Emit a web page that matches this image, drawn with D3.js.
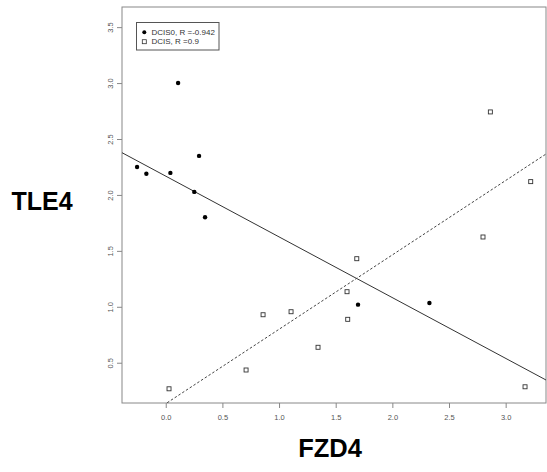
<!DOCTYPE html>
<html><head><meta charset="utf-8">
<script src="https://cdn.jsdelivr.net/npm/d3@7"></script>
<style>body{margin:0;background:#fff}svg{display:block}</style>
</head><body>
<svg id="c" width="547" height="472"></svg>
<script>
// DCIS0 (filled circles)
const dcis0X = [-0.253, -0.171, 0.041, 0.294, 0.252, 0.347, 0.109, 1.697, 2.327];
const dcis0Y = [2.25, 2.19, 2.197, 2.349, 2.027, 1.80, 3.0, 1.019, 1.034];
// DCIS (open squares)
const dcisX = [0.029, 0.709, 0.859, 1.106, 1.344, 1.600, 1.606, 1.686, 2.800, 2.865, 3.221, 3.171];
const dcisY = [0.267, 0.435, 0.929, 0.956, 0.638, 1.135, 0.888, 1.430, 1.624, 2.742, 2.119, 0.285];
// fitted lines: [intercept, slope]
const fitDcis0 = [2.168, -0.543];
const fitDcis = [0.134, 0.665];
const xTicks = [0, 0.5, 1, 1.5, 2, 2.5, 3];
const yTicks = [0.5, 1, 1.5, 2, 2.5, 3, 3.5];
const legendLabels = ["DCIS0, R =-0.942", "DCIS, R =0.9"];

const svg = d3.select("#c");
const L = 122, R = 546, T = 7, B = 403;
const x = d3.scaleLinear().domain([-0.386, 3.356]).range([L, R]);
const y = d3.scaleLinear().domain([0.14, 3.68]).range([B, T]);
const axisCol = "#888";
const font = "Liberation Sans, Arial, sans-serif";

svg.append("defs").append("clipPath").attr("id", "clip")
  .append("rect").attr("x", L).attr("y", T).attr("width", R - L).attr("height", B - T);

// box
svg.append("rect").attr("x", L).attr("y", T).attr("width", R - L).attr("height", B - T)
  .attr("fill", "none").attr("stroke", axisCol).attr("stroke-width", 1);

const xAxis = svg.append("g").attr("transform", `translate(0,${B})`)
  .call(d3.axisBottom(x).tickValues(xTicks).tickFormat(d3.format(".1f")).tickSize(5).tickPadding(7));
const yAxis = svg.append("g").attr("transform", `translate(${L},0)`)
  .call(d3.axisLeft(y).tickValues(yTicks).tickFormat(d3.format(".1f")).tickSize(5));
[xAxis, yAxis].forEach(g => {
  g.select(".domain").remove();
  g.selectAll("line").attr("stroke", axisCol);
  g.selectAll("text").attr("fill", "#555").style("font-family", font).style("font-size", "7.5px");
});
yAxis.selectAll(".tick text").attr("x", null).attr("y", null).attr("dy", "0")
  .attr("transform", `translate(-9,0) rotate(-90)`).attr("text-anchor", "middle");

// lines
const lineG = svg.append("g").attr("clip-path", "url(#clip)");
const xd = x.domain();
lineG.append("line")
  .attr("x1", x(xd[0])).attr("y1", y(fitDcis0[0] + fitDcis0[1] * xd[0]))
  .attr("x2", x(xd[1])).attr("y2", y(fitDcis0[0] + fitDcis0[1] * xd[1]))
  .attr("stroke", "#333").attr("stroke-width", 1);
lineG.append("line")
  .attr("x1", x(xd[0])).attr("y1", y(fitDcis[0] + fitDcis[1] * xd[0]))
  .attr("x2", x(xd[1])).attr("y2", y(fitDcis[0] + fitDcis[1] * xd[1]))
  .attr("stroke", "#444").attr("stroke-width", 1).attr("stroke-dasharray", "2.5,2");

// points
svg.append("g").selectAll("circle").data(dcis0X.map((v, i) => [v, dcis0Y[i]])).join("circle")
  .attr("cx", d => x(d[0])).attr("cy", d => y(d[1])).attr("r", 2.2).attr("fill", "#000");
svg.append("g").selectAll("rect").data(dcisX.map((v, i) => [v, dcisY[i]])).join("rect")
  .attr("x", d => x(d[0]) - 2).attr("y", d => y(d[1]) - 2).attr("width", 4).attr("height", 4)
  .attr("fill", "none").attr("stroke", "#333").attr("stroke-width", 0.9);

// legend
const lg = svg.append("g");
lg.append("rect").attr("x", 136.5).attr("y", 22.5).attr("width", 82.5).attr("height", 27.5)
  .attr("fill", "#fff").attr("stroke", "#555").attr("stroke-width", 1);
lg.append("circle").attr("cx", 144.3).attr("cy", 32.3).attr("r", 2).attr("fill", "#000");
lg.append("rect").attr("x", 142.3).attr("y", 39.7).attr("width", 4).attr("height", 4)
  .attr("fill", "none").attr("stroke", "#333").attr("stroke-width", 0.8);
lg.selectAll("text").data(legendLabels).join("text")
  .attr("x", 151.5).attr("y", (d, i) => 35 + i * 9.4)
  .attr("fill", "#333").style("font-family", font).style("font-size", "8px").text(d => d);

// axis titles
svg.append("text").attr("x", 11.5).attr("y", 210).text("TLE4")
  .style("font-family", font).style("font-weight", "bold").style("font-size", "25px").attr("fill", "#000");
svg.append("text").attr("x", 330).attr("y", 456.5).attr("text-anchor", "middle").text("FZD4")
  .style("font-family", font).style("font-weight", "bold").style("font-size", "25.5px").attr("fill", "#000");
</script>
</body></html>
